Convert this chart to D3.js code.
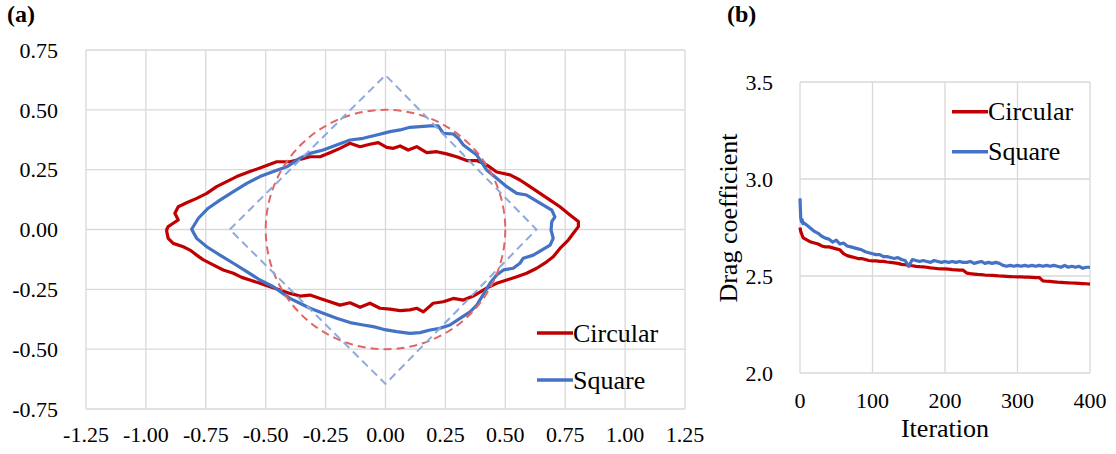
<!DOCTYPE html>
<html>
<head>
<meta charset="utf-8">
<script src="https://cdn.jsdelivr.net/npm/d3@7"></script>
<style>
  html, body { margin: 0; padding: 0; background: #fff; }
  svg { display: block; }
  text { font-family: "Liberation Serif", "Times New Roman", serif; fill: #000; }
</style>
</head>
<body>
<svg id="chart" width="1116" height="454"></svg>
<script>
// ---------- Panel (a): optimised cross-section shapes ----------
const shapeTicks = [-1.25, -1.0, -0.75, -0.5, -0.25, 0, 0.25, 0.5, 0.75, 1.0, 1.25];
const shapeYTicks = [-0.75, -0.5, -0.25, 0, 0.25, 0.5, 0.75];

// initial reference shapes
const refCircleRadius = 0.5;
const refDiamond = [[-0.65, 0], [0, 0.645], [0.63, 0], [0, -0.645]];

// optimised outline starting from the circular section
const circularShape = [
  [-0.913, 0.000], [-0.907, 0.012], [-0.886, 0.026], [-0.865, 0.040], [-0.879, 0.068],
  [-0.865, 0.095], [-0.830, 0.112], [-0.788, 0.130], [-0.746, 0.151], [-0.705, 0.179],
  [-0.663, 0.200], [-0.621, 0.221], [-0.566, 0.242], [-0.510, 0.262], [-0.454, 0.283],
  [-0.399, 0.283], [-0.357, 0.293], [-0.315, 0.304], [-0.273, 0.304], [-0.232, 0.321],
  [-0.190, 0.339], [-0.149, 0.360], [-0.106, 0.346], [-0.065, 0.356], [-0.030, 0.363],
  [0.005, 0.343], [0.033, 0.339], [0.061, 0.349], [0.095, 0.332], [0.130, 0.346],
  [0.172, 0.321], [0.214, 0.325], [0.255, 0.316], [0.297, 0.304], [0.339, 0.288],
  [0.381, 0.288], [0.422, 0.270], [0.464, 0.240], [0.520, 0.228], [0.561, 0.207],
  [0.603, 0.179], [0.645, 0.151], [0.687, 0.123], [0.728, 0.095], [0.770, 0.061],
  [0.805, 0.033], [0.805, 0.012], [0.784, -0.016], [0.763, -0.044], [0.728, -0.079],
  [0.700, -0.114], [0.673, -0.135], [0.631, -0.162], [0.589, -0.183], [0.548, -0.197],
  [0.506, -0.211], [0.464, -0.225], [0.422, -0.245], [0.366, -0.278], [0.325, -0.295],
  [0.283, -0.288], [0.241, -0.302], [0.199, -0.308], [0.158, -0.344], [0.130, -0.329],
  [0.102, -0.336], [0.061, -0.339], [0.019, -0.333], [-0.023, -0.329], [-0.065, -0.308],
  [-0.106, -0.325], [-0.148, -0.306], [-0.190, -0.316], [-0.232, -0.302], [-0.273, -0.288],
  [-0.315, -0.274], [-0.357, -0.278], [-0.399, -0.267], [-0.440, -0.253], [-0.482, -0.239],
  [-0.524, -0.225], [-0.566, -0.211], [-0.600, -0.200], [-0.635, -0.183], [-0.677, -0.169],
  [-0.719, -0.148], [-0.760, -0.127], [-0.788, -0.107], [-0.816, -0.086], [-0.844, -0.072],
  [-0.886, -0.058], [-0.907, -0.037], [-0.913, -0.009]
];

// optimised outline starting from the square section
const squareShape = [
  [-0.809, 0.001], [-0.781, 0.047], [-0.740, 0.089], [-0.691, 0.123], [-0.635, 0.158],
  [-0.579, 0.193], [-0.524, 0.221], [-0.468, 0.242], [-0.412, 0.262], [-0.357, 0.298],
  [-0.315, 0.318], [-0.260, 0.332], [-0.204, 0.353], [-0.148, 0.374], [-0.093, 0.381],
  [-0.037, 0.395], [0.019, 0.409], [0.061, 0.416], [0.102, 0.427], [0.144, 0.430],
  [0.186, 0.433], [0.220, 0.433], [0.241, 0.402], [0.283, 0.399], [0.304, 0.381],
  [0.325, 0.353], [0.353, 0.332], [0.381, 0.311], [0.422, 0.249], [0.464, 0.214],
  [0.506, 0.179], [0.548, 0.151], [0.589, 0.144], [0.624, 0.123], [0.659, 0.102],
  [0.694, 0.081], [0.707, 0.053], [0.694, 0.033], [0.691, -0.002], [0.700, -0.037],
  [0.687, -0.065], [0.652, -0.086], [0.617, -0.107], [0.575, -0.120], [0.561, -0.141],
  [0.533, -0.162], [0.492, -0.169], [0.464, -0.190], [0.436, -0.225], [0.415, -0.260],
  [0.381, -0.316], [0.353, -0.344], [0.311, -0.371], [0.269, -0.399], [0.227, -0.413],
  [0.186, -0.420], [0.144, -0.431], [0.102, -0.434], [0.047, -0.427], [-0.009, -0.417],
  [-0.051, -0.406], [-0.093, -0.399], [-0.148, -0.389], [-0.204, -0.371], [-0.260, -0.350],
  [-0.315, -0.329], [-0.357, -0.308], [-0.399, -0.288], [-0.468, -0.239], [-0.524, -0.211],
  [-0.579, -0.176], [-0.635, -0.141], [-0.691, -0.107], [-0.746, -0.072], [-0.788, -0.037]
];

// ---------- Panel (b): drag coefficient history ----------
const iterTicks = [0, 100, 200, 300, 400];
const cdTicks = [2.0, 2.5, 3.0, 3.5];
const iterations = [
  0, 1, 2, 3, 4, 5, 10, 15, 20, 25, 30, 35, 40, 45, 50, 55, 60, 65, 70, 75, 80,
  85, 90, 95, 100, 105, 110, 115, 120, 125, 130, 135, 140, 145, 150, 155, 160,
  165, 170, 175, 180, 185, 190, 195, 200, 205, 210, 215, 220, 225, 230, 235, 240,
  245, 250, 255, 260, 265, 270, 275, 280, 285, 290, 295, 300, 305, 310, 315, 320,
  325, 330, 335, 340, 345, 350, 355, 360, 365, 370, 375, 380, 385, 390, 395, 400
];
const cdCircular = [
  2.750, 2.730, 2.720, 2.710, 2.700, 2.695, 2.685, 2.675, 2.670, 2.665, 2.655, 2.650,
  2.650, 2.645, 2.640, 2.635, 2.615, 2.605, 2.600, 2.595, 2.590, 2.590, 2.585, 2.580,
  2.578, 2.578, 2.575, 2.575, 2.572, 2.570, 2.568, 2.565, 2.560, 2.558, 2.555, 2.553,
  2.550, 2.548, 2.547, 2.545, 2.542, 2.540, 2.538, 2.537, 2.537, 2.535, 2.533, 2.532,
  2.530, 2.530, 2.515, 2.512, 2.510, 2.508, 2.507, 2.505, 2.504, 2.503, 2.502, 2.500,
  2.499, 2.498, 2.497, 2.496, 2.495, 2.495, 2.494, 2.494, 2.493, 2.492, 2.492, 2.475,
  2.473, 2.472, 2.470, 2.468, 2.467, 2.466, 2.465, 2.464, 2.463, 2.462, 2.461, 2.460, 2.458
];
const cdSquare = [
  2.900, 2.800, 2.780, 2.790, 2.770, 2.775, 2.760, 2.745, 2.730, 2.720, 2.705, 2.695,
  2.690, 2.675, 2.685, 2.665, 2.670, 2.655, 2.650, 2.645, 2.640, 2.635, 2.625, 2.620,
  2.615, 2.610, 2.610, 2.600, 2.600, 2.595, 2.590, 2.595, 2.585, 2.580, 2.550, 2.585,
  2.580, 2.575, 2.580, 2.575, 2.570, 2.580, 2.575, 2.570, 2.575, 2.570, 2.575, 2.570,
  2.575, 2.570, 2.570, 2.575, 2.565, 2.570, 2.575, 2.565, 2.570, 2.565, 2.570, 2.565,
  2.555, 2.550, 2.555, 2.550, 2.555, 2.550, 2.555, 2.550, 2.555, 2.550, 2.555, 2.550,
  2.555, 2.550, 2.555, 2.550, 2.545, 2.555, 2.545, 2.550, 2.545, 2.550, 2.540, 2.545, 2.545
];

const RED = "#C00000", BLUE = "#4472C4";
const RED_REF = "#E06666", BLUE_REF = "#8EA9DB";
const GRID = "#d9d9d9";
const svg = d3.select("#chart");
const fmt2 = v => { const s = Math.abs(v).toFixed(2); return (v < 0 ? "-" : "") + s; };

// ---------- draw panel (a) ----------
{
  const x = d3.scaleLinear().domain([-1.25, 1.25]).range([86, 685]);
  const y = d3.scaleLinear().domain([-0.75, 0.75]).range([409, 50]);
  const g = svg.append("g");

  g.selectAll("line.gx").data(shapeTicks).join("line")
    .attr("x1", d => x(d)).attr("x2", d => x(d))
    .attr("y1", y(-0.75)).attr("y2", y(0.75))
    .attr("stroke", GRID).attr("stroke-width", 1.3);
  g.selectAll("line.gy").data(shapeYTicks).join("line")
    .attr("x1", x(-1.25)).attr("x2", x(1.25))
    .attr("y1", d => y(d)).attr("y2", d => y(d))
    .attr("stroke", GRID).attr("stroke-width", 1.3);

  g.selectAll("text.tx").data(shapeTicks).join("text")
    .attr("x", d => x(d)).attr("y", 441.5)
    .attr("text-anchor", "middle").attr("font-size", 22)
    .text(fmt2);
  g.selectAll("text.ty").data(shapeYTicks).join("text")
    .attr("x", 58).attr("y", d => y(d)).attr("dy", "0.35em")
    .attr("text-anchor", "end").attr("font-size", 22)
    .text(fmt2);

  const line = d3.line().x(d => x(d[0])).y(d => y(d[1])).curve(d3.curveLinearClosed);

  g.append("path").datum(circularShape).attr("d", line)
    .attr("fill", "none").attr("stroke", RED).attr("stroke-width", 3.2)
    .attr("stroke-linejoin", "round");
  g.append("path").datum(squareShape).attr("d", line)
    .attr("fill", "none").attr("stroke", BLUE).attr("stroke-width", 3.2)
    .attr("stroke-linejoin", "round");

  // reference outlines
  g.append("ellipse")
    .attr("cx", x(0)).attr("cy", y(0))
    .attr("rx", x(refCircleRadius) - x(0)).attr("ry", y(0) - y(refCircleRadius))
    .attr("fill", "none").attr("stroke", RED_REF).attr("stroke-width", 2)
    .attr("stroke-dasharray", "8,5");
  g.append("path").datum(refDiamond).attr("d", line)
    .attr("fill", "none").attr("stroke", BLUE_REF).attr("stroke-width", 2)
    .attr("stroke-dasharray", "8,5");

  // legend
  const leg = [{ name: "Circular", c: RED, y: 333 }, { name: "Square", c: BLUE, y: 380 }];
  leg.forEach(l => {
    g.append("line").attr("x1", 537).attr("x2", 573).attr("y1", l.y).attr("y2", l.y)
      .attr("stroke", l.c).attr("stroke-width", 3.5);
    g.append("text").attr("x", 573).attr("y", l.y).attr("dy", "0.33em")
      .attr("font-size", 26).text(l.name);
  });

  g.append("text").attr("x", 7).attr("y", 22).attr("font-size", 24)
    .attr("font-weight", "bold").text("(a)");
}

// ---------- draw panel (b) ----------
{
  const x = d3.scaleLinear().domain([0, 400]).range([800, 1090]);
  const y = d3.scaleLinear().domain([2.0, 3.5]).range([373, 82]);
  const g = svg.append("g");

  g.selectAll("line.gx").data(iterTicks).join("line")
    .attr("x1", d => x(d)).attr("x2", d => x(d))
    .attr("y1", y(2.0)).attr("y2", y(3.5))
    .attr("stroke", GRID).attr("stroke-width", 1.3);
  g.selectAll("line.gy").data(cdTicks).join("line")
    .attr("x1", x(0)).attr("x2", x(400))
    .attr("y1", d => y(d)).attr("y2", d => y(d))
    .attr("stroke", GRID).attr("stroke-width", 1.3);

  g.selectAll("text.tx").data(iterTicks).join("text")
    .attr("x", d => x(d)).attr("y", 408)
    .attr("text-anchor", "middle").attr("font-size", 22)
    .text(d => d);
  g.selectAll("text.ty").data(cdTicks).join("text")
    .attr("x", 773).attr("y", d => y(d)).attr("dy", "0.35em")
    .attr("text-anchor", "end").attr("font-size", 22)
    .text(d => d.toFixed(1));

  g.append("text").attr("x", x(200)).attr("y", 437)
    .attr("text-anchor", "middle").attr("font-size", 26).text("Iteration");
  g.append("text")
    .attr("transform", "translate(736.5,218) rotate(-90)")
    .attr("text-anchor", "middle").attr("font-size", 26).text("Drag coefficient");

  const line = (vals) => d3.line().x((d, i) => x(iterations[i])).y(d => y(d))(vals);
  g.append("path").attr("d", line(cdCircular))
    .attr("fill", "none").attr("stroke", RED).attr("stroke-width", 3.2)
    .attr("stroke-linejoin", "round");
  g.append("path").attr("d", line(cdSquare))
    .attr("fill", "none").attr("stroke", BLUE).attr("stroke-width", 3.2)
    .attr("stroke-linejoin", "round");

  const leg = [{ name: "Circular", c: RED, y: 111.7 }, { name: "Square", c: BLUE, y: 151.7 }];
  leg.forEach(l => {
    g.append("line").attr("x1", 952).attr("x2", 988).attr("y1", l.y).attr("y2", l.y)
      .attr("stroke", l.c).attr("stroke-width", 3.5);
    g.append("text").attr("x", 988).attr("y", l.y).attr("dy", "0.33em")
      .attr("font-size", 26).text(l.name);
  });

  g.append("text").attr("x", 727).attr("y", 22).attr("font-size", 24)
    .attr("font-weight", "bold").text("(b)");
}
</script>
</body>
</html>
